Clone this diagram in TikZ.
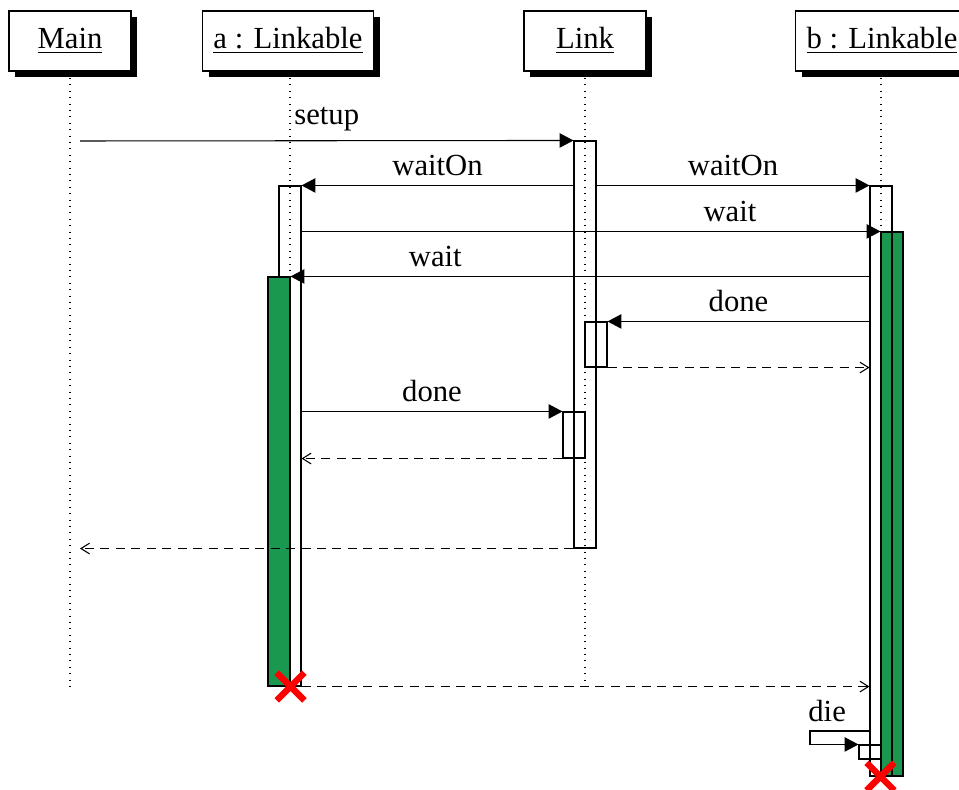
\documentclass[tikz,border=0pt]{standalone}
\usepackage{fontspec}
\setmainfont{Liberation Serif}
\usetikzlibrary{positioning,arrows.meta,fit,shadows,shapes.misc}
\definecolor{busyFill}{HTML}{1A9850}
\definecolor{killCol}{HTML}{FF0000}

\begin{document}
\begin{tikzpicture}[
  x=0.375pt, y=-0.375pt,
  font=\fontsize{11.5}{13.8}\selectfont,
  inst/.style={draw, fill=white, minimum width=45.75pt, minimum height=22.5pt, inner xsep=4.1pt,
               drop shadow={shadow xshift=2.4pt, shadow yshift=-2.4pt, fill=black, opacity=1}},
  life/.style={dotted},
  act/.style={draw, inner sep=0pt, minimum width=8.25pt},
  busy/.style={act, fill=busyFill},
  call/.style={-{Triangle[length=5.2pt,width=5.4pt]}},
  ret/.style={dash pattern=on 3.4pt off 2.4pt, -{Straight Barb[length=3.2pt,width=4pt]}},
  kill/.style={cross out, draw=killCol, line width=2.4pt, minimum size=8pt, inner sep=0pt},
]
\useasboundingbox (0,0) rectangle (959,790);

% ---- Instancias ----
\node[inst] (main) at (70,41)  {\underline{Main}};
\node[inst] (a)    at (288,41) {\underline{a : Linkable}};
\node[inst] (link) at (585,41) {\underline{Link}};
\node[inst] (b)    at (882,41) {\underline{b : Linkable}};

% ---- Lineas de vida ----
\coordinate (mainEnd) at (70,686);
\coordinate (aEnd)    at (290,686);
\coordinate (linkEnd) at (585,686);
\coordinate (bEnd)    at (881,686);
\draw[life] (main) -- (mainEnd);
\draw[life] (a.south -| aEnd) -- (aEnd);
\draw[life] (link) -- (linkEnd);
\draw[life] (b.south -| bEnd) -- (bEnd);

% ---- Activaciones ----
\node[act, fit={(585,141)(585,548)}] (linkAct) {};
\node[act, fit={(290,186)(290,686)}] (aAct) {};
\node[busy, fit={(279,277)(279,686)}] (aBusy) {};
\node[busy, fit={(892,232)(892,776)}] (bBusy) {};
\node[act, fit={(881,186)(881,776)}] (bAct) {};
\node[act, fit={(596,322)(596,367)}] (linkDone) {};
\node[act, fit={(574,412)(574,458)}] (linkDoneB) {};
\node[act, fit={(870,745)(870,759)}] (bDie) {};

% ---- Mensajes ----
\coordinate (setupFrom) at (80,141);
\draw[call] (setupFrom) -- (linkAct.north west) node[midway, above] {setup};
\draw[call] (linkAct.west |- aAct.north) -- (aAct.north east) node[midway, above] {waitOn};
\draw[call] (linkAct.east |- bAct.north) -- (bAct.north west) node[midway, above] {waitOn};
\draw[call] (aAct.east |- bBusy.north) -- (bBusy.north west) node[pos=0.74, above] {wait};
\draw[call] (bAct.west |- aBusy.north) -- (aBusy.north east) node[pos=0.75, above] {wait};
\draw[call] (bAct.west |- linkDone.north) -- (linkDone.north east) node[midway, above] {done};
\draw[ret]  (linkDone.south east) -- (bAct.west |- linkDone.south);
\draw[call] (aAct.east |- linkDoneB.north) -- (linkDoneB.north west) node[midway, above] {done};
\draw[ret]  (linkDoneB.south west) -- (aAct.east |- linkDoneB.south);
\draw[ret]  (linkAct.south west) -- (setupFrom |- linkAct.south);
\draw[ret]  (aAct.south east) -- (bAct.west |- aAct.south);

% ---- Autollamada ----
\coordinate (dieCorner) at (810,731);
\draw[call] (bAct.west |- dieCorner) -- (dieCorner)
  node[anchor=south west, inner xsep=0pt, xshift=-0.8pt] {die} |- (bDie.north west);

% ---- Destruccion ----
\node[kill] (aKill) at (aBusy.south east) {};
\node[kill] (bKill) at (bBusy.south west) {};

\end{tikzpicture}
\end{document}
